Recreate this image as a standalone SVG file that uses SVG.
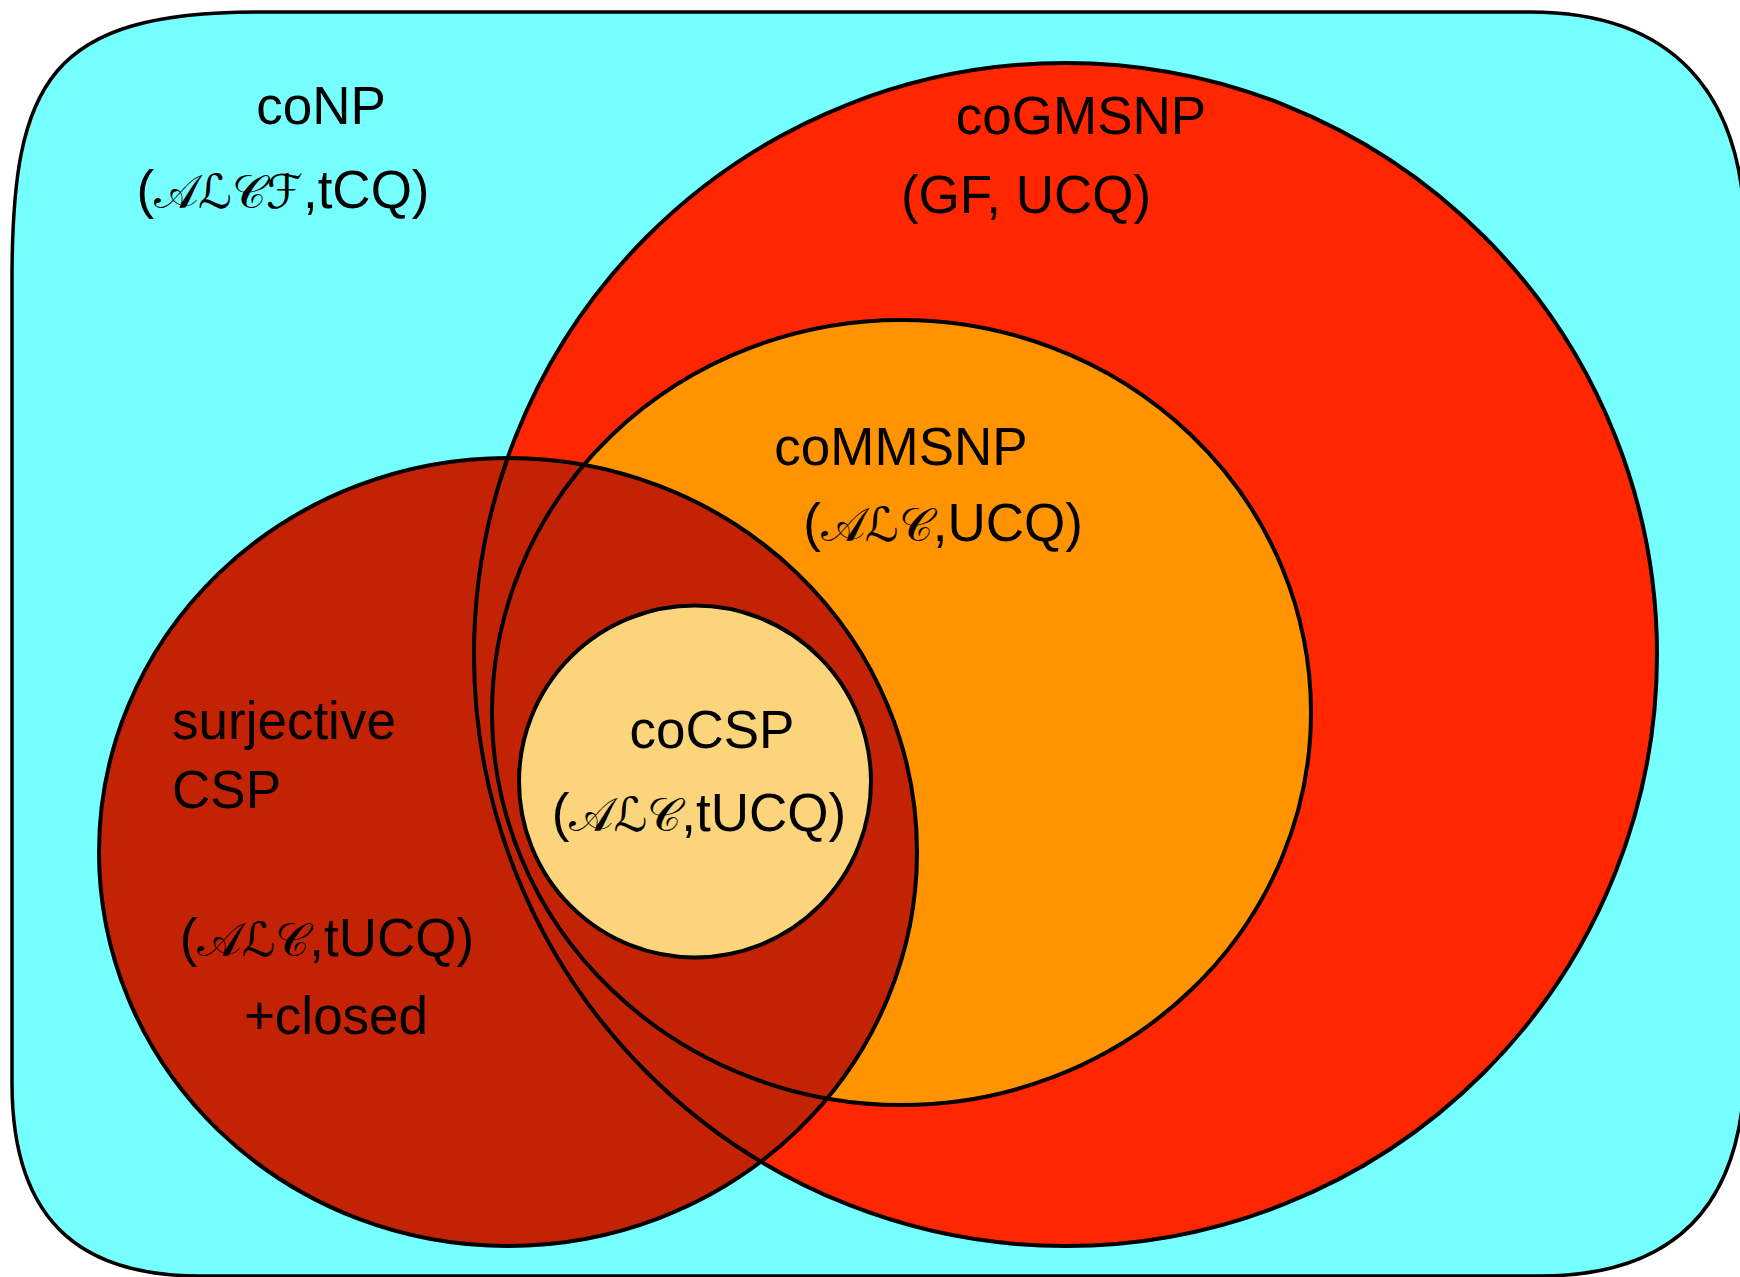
<svg xmlns="http://www.w3.org/2000/svg" width="1740" height="1277" viewBox="0 0 1740 1277">
<style>
.lbl{font-family:"Liberation Sans",Arial,sans-serif;font-size:53px;fill:#000}
.m{font-family:"DejaVu Serif","DejaVu Sans","Noto Sans CJK SC",serif;font-size:47px}
.ln{fill:none;stroke:#000;stroke-width:4}
</style>
<rect width="1740" height="1277" fill="#fff"/>
<g id="coNP">
<path d="M12,280 C12,80 50,12 260,12 L1530,12 C1670,12 1745,90 1745,240 L1745,1060 C1745,1200 1680,1276 1540,1276 L200,1276 C90,1276 12,1230 12,1083 Z" fill="#76FFFF" stroke="#000" stroke-width="3.5"/>
<text class="lbl" x="321" y="124" text-anchor="middle">coNP</text>
<text class="lbl" x="283" y="208" text-anchor="middle">(<tspan class="m">𝒜ℒ𝒞ℱ</tspan>,tCQ)</text>
</g>
<g id="coGMSNP">
<ellipse cx="1065.5" cy="654.5" rx="591.5" ry="591.5" fill="#FF2600"/>
</g>
<g id="coMMSNP">
<ellipse cx="901.5" cy="712.5" rx="409.5" ry="392.5" fill="#FF9300"/>
</g>
<g id="surjectiveCSP">
<ellipse cx="508" cy="852" rx="409" ry="394" fill="#C42204"/>
</g>
<g id="outlines">
<ellipse class="ln" cx="1065.5" cy="654.5" rx="591.5" ry="591.5"/>
<ellipse class="ln" cx="901.5" cy="712.5" rx="409.5" ry="392.5"/>
<ellipse class="ln" cx="508" cy="852" rx="409" ry="394"/>
</g>
<g id="coCSP">
<circle cx="695" cy="781.5" r="176" fill="#FCD47B" stroke="#000" stroke-width="4"/>
<text class="lbl" x="712" y="748" text-anchor="middle">coCSP</text>
<text class="lbl" x="699" y="831" text-anchor="middle">(<tspan class="m">𝒜ℒ𝒞</tspan>,tUCQ)</text>
</g>
<g id="labels">
<text class="lbl" x="1081" y="134" text-anchor="middle">coGMSNP</text>
<text class="lbl" x="1026" y="213" text-anchor="middle">(GF, UCQ)</text>
<text class="lbl" x="901" y="465" text-anchor="middle">coMMSNP</text>
<text class="lbl" x="943" y="541" text-anchor="middle">(<tspan class="m">𝒜ℒ𝒞</tspan>,UCQ)</text>
<text class="lbl" x="172" y="739">surjective</text>
<text class="lbl" x="172" y="808">CSP</text>
<text class="lbl" x="327" y="956" text-anchor="middle">(<tspan class="m">𝒜ℒ𝒞</tspan>,tUCQ)</text>
<text class="lbl" x="336" y="1034" text-anchor="middle">+closed</text>
</g>
<g id="connectors"/>
</svg>
